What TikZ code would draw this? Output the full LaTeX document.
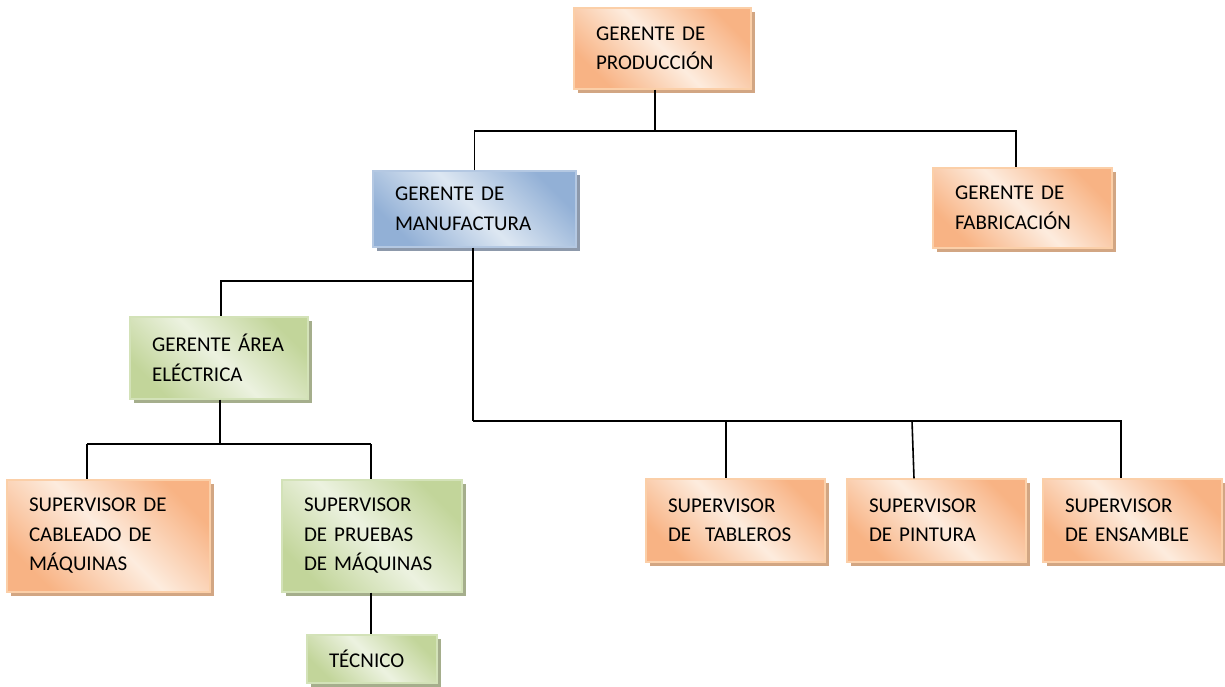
\documentclass[tikz,border=0pt]{standalone}
\usepackage{fontspec}
\setmainfont{Carlito}
\usetikzlibrary{shadows}
\definecolor{odark}{HTML}{F8B384}
\definecolor{olight}{HTML}{FDECDE}
\definecolor{obord}{HTML}{FBCFA8}
\definecolor{oshad}{HTML}{D2A683}
\definecolor{bdark}{HTML}{92B0D6}
\definecolor{blight}{HTML}{DDE7F2}
\definecolor{bbord}{HTML}{B4C8E2}
\definecolor{bshad}{HTML}{8D99AB}
\definecolor{gdark}{HTML}{C2D59A}
\definecolor{glight}{HTML}{ECF2E0}
\definecolor{gbord}{HTML}{D3E2B8}
\definecolor{gshad}{HTML}{A5AE8C}
\tikzset{
  box/.style={rectangle, inner xsep=22pt, inner ysep=0pt, align=left,
    font=\fontsize{21}{29.5}\selectfont, line width=1.2pt},
  orangebox/.style={box, draw=obord, top color=odark, bottom color=odark,
    middle color=olight, shading angle=-45,
    drop shadow={shadow xshift=4pt, shadow yshift=-4pt, fill=oshad, opacity=1}},
  bluebox/.style={box, draw=bbord, top color=bdark, bottom color=bdark,
    middle color=blight, shading angle=-45,
    drop shadow={shadow xshift=4pt, shadow yshift=-4pt, fill=bshad, opacity=1}},
  greenbox/.style={box, draw=gbord, top color=gdark, bottom color=gdark,
    middle color=glight, shading angle=-45,
    drop shadow={shadow xshift=4pt, shadow yshift=-4pt, fill=gshad, opacity=1}},
  conn/.style={line width=1.6pt, black}
}
\begin{document}
\begin{tikzpicture}[x=1pt, y=-1pt]
\useasboundingbox (0,0) rectangle (1225,687);
\coordinate (b1) at (655,131);
\coordinate (fabt) at (1016,131);
\coordinate (m1) at (473,281);
\coordinate (e1) at (221,281);
\coordinate (m2) at (473,421);
\coordinate (t1) at (726,421);
\coordinate (p1) at (912,421);
\coordinate (s1) at (1121,421);
\coordinate (l1) at (220,444);
\coordinate (c1) at (87,444);
\coordinate (r1) at (371,444);

\node[orangebox, text width=133pt, minimum height=81pt] (prod) at (662.5,48.5) {GERENTE DE\\PRODUCCIÓN};
\node[bluebox, text width=159pt, minimum height=76pt] (manu) at (474.5,209) {GERENTE DE\\MANUFACTURA};
\node[orangebox, text width=135pt, minimum height=80pt] (fab) at (1022.5,208) {GERENTE DE\\FABRICACIÓN};
\node[greenbox, text width=134pt, minimum height=82pt] (elec) at (219,358) {GERENTE ÁREA\\ELÉCTRICA};
\node[orangebox, text width=159pt, minimum height=112pt] (cabl) at (108.5,536) {SUPERVISOR DE\\CABLEADO DE\\MÁQUINAS};
\node[greenbox, text width=136pt, minimum height=112pt] (prue) at (372,536) {SUPERVISOR\\DE PRUEBAS\\DE MÁQUINAS};
\node[greenbox, text width=86pt, minimum height=48pt] (tec) at (372,659) {TÉCNICO};
\node[orangebox, text width=135pt, minimum height=83pt] (tab) at (735.5,520.5) {SUPERVISOR\\DE\ \ TABLEROS};
\node[orangebox, text width=135pt, minimum height=83pt] (pin) at (936.5,520.5) {SUPERVISOR\\DE PINTURA};
\node[orangebox, text width=135pt, minimum height=83pt] (ens) at (1132.5,520.5) {SUPERVISOR\\DE ENSAMBLE};

\draw[conn] (prod.south -| b1) -- (b1);
\draw[conn] (manu.north) -- (manu.north |- b1) -- (fabt) -- (fabt |- fab.north);
\draw[conn] (manu.south -| m1) -- (m2);
\draw[conn] (m1) -- (e1) -- (e1 |- elec.north);
\draw[conn] (m2) -- (s1) -- (s1 |- ens.north);
\draw[conn] (t1) -- (t1 |- tab.north);
\draw[conn] (p1) -- ([xshift=2pt]p1 |- pin.north);
\draw[conn] (elec.south -| l1) -- (l1);
\draw[conn] (c1) -- (r1);
\draw[conn] (c1) -- (c1 |- cabl.north);
\draw[conn] (r1) -- (r1 |- prue.north);
\draw[conn] (prue.south -| r1) -- (r1 |- tec.north);
\end{tikzpicture}
\end{document}
